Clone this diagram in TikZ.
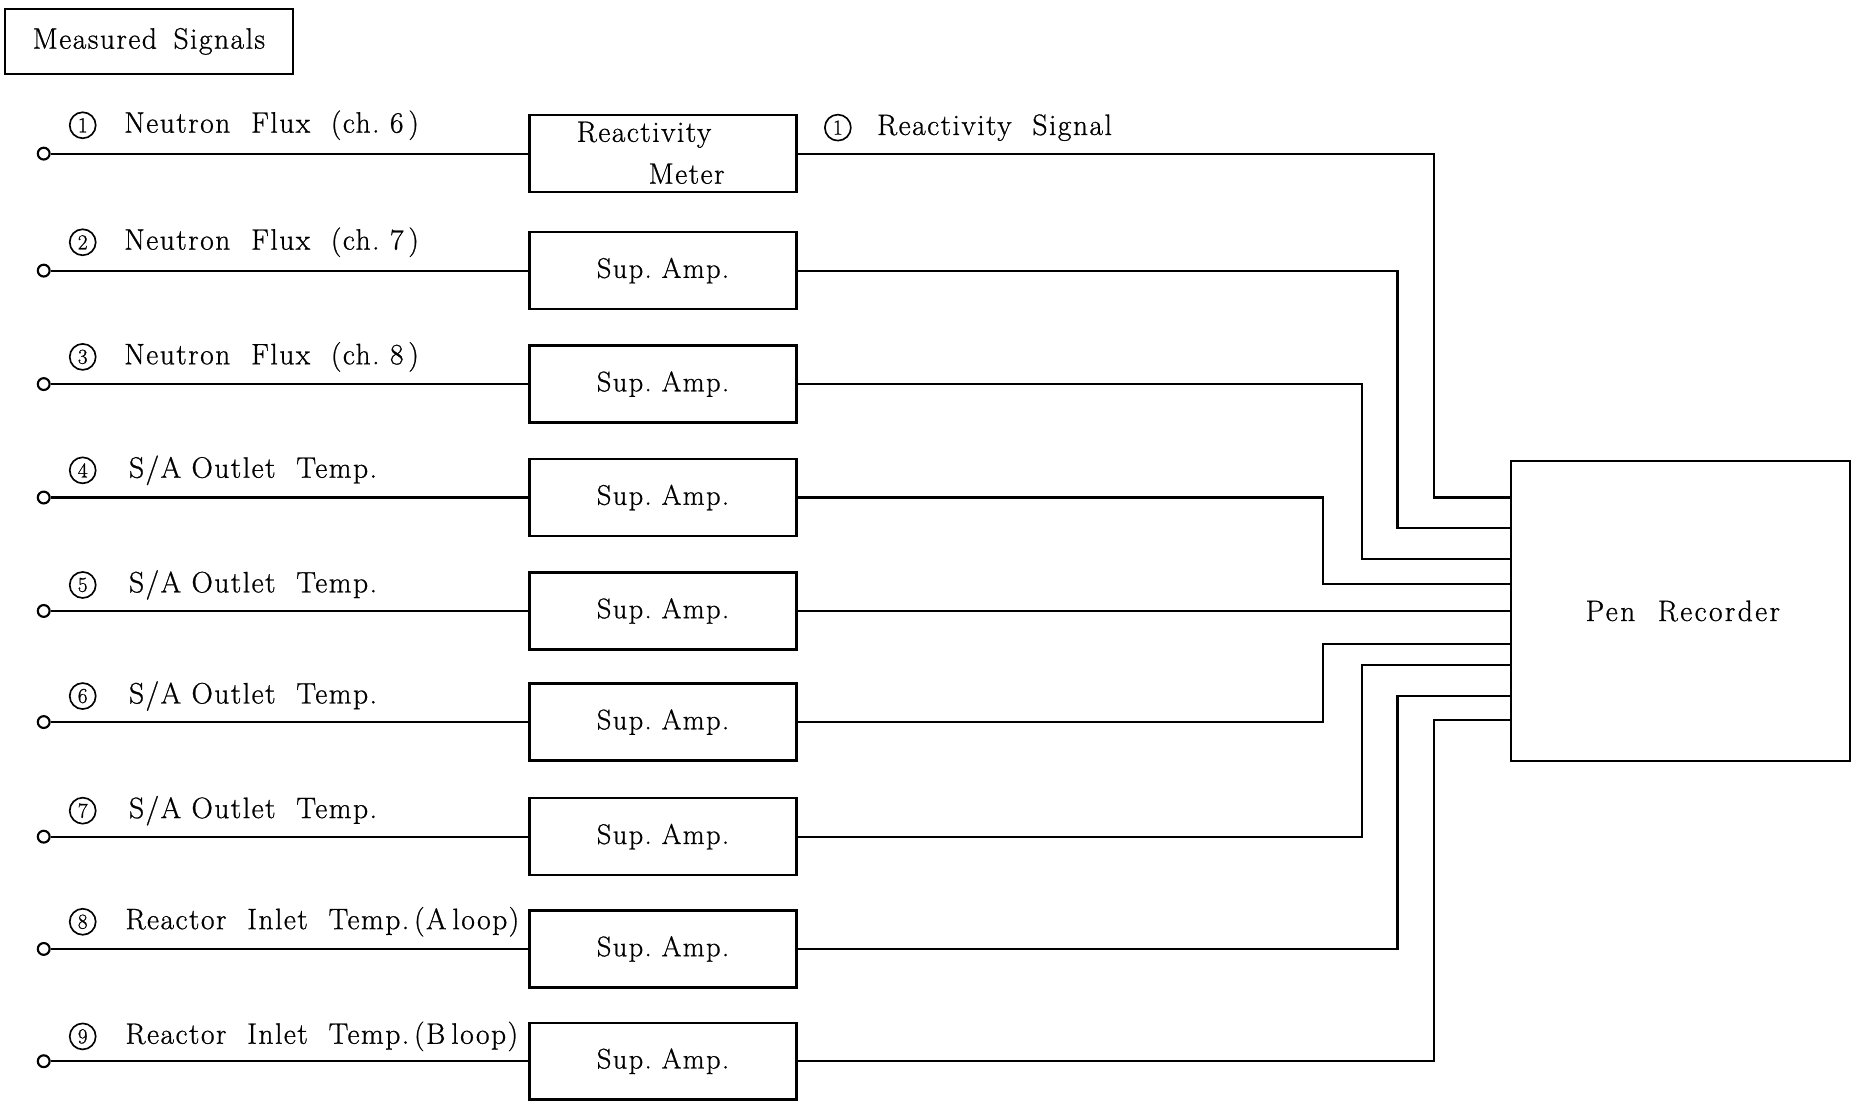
\documentclass[tikz,border=0pt]{standalone}
\usepackage{fontspec}
\setmainfont{Latin Modern Roman}[LetterSpace=5,FakeBold=0.8]
\newfontfamily\widefont{Latin Modern Roman}[LetterSpace=8,FakeBold=0.8]
\begin{document}
\begin{tikzpicture}[x=1pt,y=-1pt,
  txt/.style={font=\fontsize{25}{29}\selectfont, inner sep=0pt},
  lbl/.style={txt, anchor=west},
  num/.style={circle, draw, line width=1.4pt, minimum size=22pt, inner sep=0pt, font=\fontsize{18}{19}\selectfont},
  ampbox/.style={draw, line width=2pt, minimum width=226pt, minimum height=65pt, inner sep=0pt, font=\fontsize{24}{28}\selectfont},
  wire/.style={line width=1.8pt},
  term/.style={circle, draw, line width=1.8pt, minimum size=10pt, inner sep=0pt}
]
\useasboundingbox (0,0) rectangle (1568,933);

% title box
\node[draw, line width=1.8pt, minimum width=244pt, minimum height=55pt, txt] (title) at (126,35) {Measured\hspace{14pt}Signals};

% pen recorder
\node[draw, line width=2pt, minimum width=287pt, minimum height=254pt, inner sep=0pt] (pr) at (1422,517) {};
\node[txt, font=\widefont\fontsize{25}{29}\selectfont] (prt) at (1424,517) {Pen\ \ Recorder};

% reactivity meter
\node[ampbox] (a1) at (561,130) {};
\node[txt] (rm1) at (545,114) {Reactivity};
\node[txt] (rm2) at (581,147) {Meter};

% sup amps
\node[ampbox] (a2) at (561,229) {Sup.\ Amp.};
\node[ampbox] (a3) at (561,325) {Sup.\ Amp.};
\node[ampbox] (a4) at (561,421) {Sup.\ Amp.};
\node[ampbox] (a5) at (561,517) {Sup.\ Amp.};
\node[ampbox] (a6) at (561,611) {Sup.\ Amp.};
\node[ampbox] (a7) at (561,708) {Sup.\ Amp.};
\node[ampbox] (a8) at (561,803) {Sup.\ Amp.};
\node[ampbox] (a9) at (561,898) {Sup.\ Amp.};

% terminals
\node[term] (t1) at (37,130) {};
\node[term] (t2) at (37,229) {};
\node[term] (t3) at (37,325) {};
\node[term] (t4) at (37,421) {};
\node[term] (t5) at (37,517) {};
\node[term] (t6) at (37,611) {};
\node[term] (t7) at (37,708) {};
\node[term] (t8) at (37,803) {};
\node[term] (t9) at (37,898) {};

% labels
\node[num] (n1) at (70,106) {1};
\node[lbl] (l1) at (105,106) {Neutron\ \ Flux\ \ (ch.\ 6\,)};
\node[num] (n2) at (70,205) {2};
\node[lbl] (l2) at (105,205) {Neutron\ \ Flux\ \ (ch.\ 7\,)};
\node[num] (n3) at (70,302) {3};
\node[lbl] (l3) at (105,302) {Neutron\ \ Flux\ \ (ch.\ 8\,)};
\node[num] (n4) at (70,398) {4};
\node[lbl] (l4) at (109,398) {S/A\ Outlet\ \ Temp.};
\node[num] (n5) at (70,495) {5};
\node[lbl] (l5) at (109,495) {S/A\ Outlet\ \ Temp.};
\node[num] (n6) at (70,589) {6};
\node[lbl] (l6) at (109,589) {S/A\ Outlet\ \ Temp.};
\node[num] (n7) at (70,686) {7};
\node[lbl] (l7) at (109,686) {S/A\ Outlet\ \ Temp.};
\node[num] (n8) at (70,780) {8};
\node[lbl] (l8) at (106,780) {Reactor\ \ Inlet\ \ Temp.\,(A\hspace{5pt}loop)};
\node[num] (n9) at (70,877) {9};
\node[lbl] (l9) at (106,877) {Reactor\ \ Inlet\ \ Temp.\,(B\hspace{5pt}loop)};

\node[num] (n10) at (709,108) {1};
\node[lbl] (l10) at (742,108) {Reactivity\ \ Signal};

% input wires
\foreach \i in {1,...,9} {\draw[wire] (t\i) -- (a\i.west);}

% recorder inputs
\coordinate (in1) at (pr.west |- 0,421);
\coordinate (in2) at (pr.west |- 0,447);
\coordinate (in3) at (pr.west |- 0,473);
\coordinate (in4) at (pr.west |- 0,494);
\coordinate (in5) at (pr.west |- 0,517);
\coordinate (in6) at (pr.west |- 0,545);
\coordinate (in7) at (pr.west |- 0,563);
\coordinate (in8) at (pr.west |- 0,589);
\coordinate (in9) at (pr.west |- 0,609);

\draw[wire] (a1.east) -| ([xshift=-64pt]in1) -- (in1);
\draw[wire] (a2.east) -| ([xshift=-95pt]in2) -- (in2);
\draw[wire] (a3.east) -| ([xshift=-125pt]in3) -- (in3);
\draw[wire] (a4.east) -| ([xshift=-158pt]in4) -- (in4);
\draw[wire] (a5.east) -- (in5);
\draw[wire] (a6.east) -| ([xshift=-158pt]in6) -- (in6);
\draw[wire] (a7.east) -| ([xshift=-125pt]in7) -- (in7);
\draw[wire] (a8.east) -| ([xshift=-95pt]in8) -- (in8);
\draw[wire] (a9.east) -| ([xshift=-64pt]in9) -- (in9);
\end{tikzpicture}
\end{document}
